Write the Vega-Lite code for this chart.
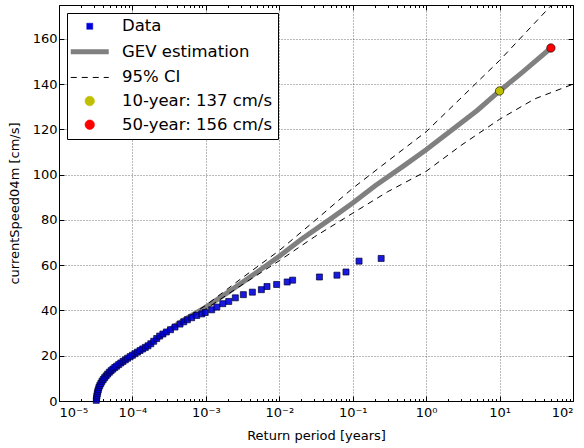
{
 "$schema": "https://vega.github.io/schema/vega-lite/v6.json",
 "width": 514, "height": 396,
 "autosize": {"type": "none"},
 "padding": {"left": 59, "top": 5, "right": 11, "bottom": 47},
 "background": "white",
 "config": {
  "font": "DejaVu Sans",
  "view": {"stroke": "black", "strokeWidth": 1},
  "axis": {"labelFont": "DejaVu Sans", "titleFont": "DejaVu Sans", "labelColor": "black", "titleColor": "black", "labelFontSize": 13, "titleFontSize": 13, "titleFontWeight": "normal", "tickColor": "black", "tickWidth": 1, "domain": false}
 },
 "datasets": {
  "pts": [
   {"x":3.22e-5,"y":0.3},{"x":3.25e-5,"y":1.2},{"x":3.28e-5,"y":2.2},{"x":3.32e-5,"y":3.2},{"x":3.37e-5,"y":4.1},{"x":3.43e-5,"y":5.0},{"x":3.5e-5,"y":6.0},{"x":3.6e-5,"y":6.9},{"x":3.72e-5,"y":7.8},{"x":3.85e-5,"y":8.7},{"x":4.0e-5,"y":9.5},{"x":4.18e-5,"y":10.3},{"x":4.38e-5,"y":11.1},{"x":4.6e-5,"y":11.9},{"x":4.85e-5,"y":12.7},{"x":5.12e-5,"y":13.4},{"x":5.42e-5,"y":14.1},{"x":5.75e-5,"y":14.8},{"x":6.1e-5,"y":15.4},{"x":6.5e-5,"y":16.1},{"x":6.95e-5,"y":16.8},{"x":7.45e-5,"y":17.5},{"x":8.0e-5,"y":18.2},{"x":8.6e-5,"y":18.9},{"x":9.3e-5,"y":19.6},{"x":1.0e-4,"y":20.2},{"x":1.08e-4,"y":20.9},{"x":1.17e-4,"y":21.6},{"x":1.27e-4,"y":22.3},{"x":1.38e-4,"y":23.0},{"x":1.5e-4,"y":23.7},{"x":1.63e-4,"y":24.4},{"x":1.78e-4,"y":25.3},{"x":1.95e-4,"y":26.4},{"x":2.14e-4,"y":27.6},{"x":2.35e-4,"y":28.7},{"x":2.6e-4,"y":29.6},{"x":2.9e-4,"y":30.5},{"x":3.3e-4,"y":31.5},{"x":3.8e-4,"y":32.7},{"x":4.45e-4,"y":34.0},{"x":5.0e-4,"y":35.0},{"x":5.6e-4,"y":35.9},{"x":6.4e-4,"y":36.8},{"x":7.5e-4,"y":37.8},{"x":8.8e-4,"y":38.5},{"x":9.8e-4,"y":39.1},{"x":1.2e-3,"y":40.3},{"x":1.41e-3,"y":41.5},{"x":1.7e-3,"y":43.0},{"x":2.05e-3,"y":44.0},{"x":2.52e-3,"y":45.6},{"x":3.24e-3,"y":47.0},{"x":4.3e-3,"y":48.1},{"x":5.7e-3,"y":49.2},{"x":6.8e-3,"y":50.6},{"x":9.2e-3,"y":51.5},{"x":1.28e-2,"y":52.6},{"x":1.52e-2,"y":53.4},{"x":3.52e-2,"y":54.8},{"x":6.1e-2,"y":55.6},{"x":8.1e-2,"y":57.0},{"x":0.122,"y":61.8},{"x":0.244,"y":63.0}
  ],
  "gev": [
   {"x":3.22e-5,"y":0},{"x":3.3e-5,"y":3},{"x":3.43e-5,"y":5},{"x":3.72e-5,"y":7.8},{"x":4e-5,"y":9.5},{"x":4.6e-5,"y":11.9},{"x":5.42e-5,"y":14.1},{"x":6.5e-5,"y":16.1},{"x":8e-5,"y":18.2},{"x":1e-4,"y":20.2},{"x":1.27e-4,"y":22.3},{"x":1.63e-4,"y":24.6},{"x":2.14e-4,"y":27.4},{"x":3e-4,"y":30.9},{"x":5e-4,"y":35.8},{"x":1e-3,"y":41.5},{"x":2e-3,"y":48},{"x":5e-3,"y":57},{"x":1e-2,"y":64},{"x":2e-2,"y":71.5},{"x":5e-2,"y":80.5},{"x":0.1,"y":87.5},{"x":0.2,"y":95},{"x":0.5,"y":104},{"x":1,"y":111},{"x":2,"y":118.5},{"x":5,"y":128.5},{"x":10,"y":137},{"x":20,"y":145},{"x":50,"y":156}
  ],
  "ci": [
   {"x":3.22e-5,"y":0,"b":"u"},{"x":3.3e-5,"y":3,"b":"u"},{"x":3.43e-5,"y":5,"b":"u"},{"x":3.72e-5,"y":7.8,"b":"u"},{"x":4e-5,"y":9.5,"b":"u"},{"x":4.6e-5,"y":11.9,"b":"u"},{"x":5.42e-5,"y":14.1,"b":"u"},{"x":6.5e-5,"y":16.1,"b":"u"},{"x":8e-5,"y":18.2,"b":"u"},{"x":1e-4,"y":20.3,"b":"u"},{"x":1.63e-4,"y":24.8,"b":"u"},{"x":3e-4,"y":31.2,"b":"u"},{"x":1e-3,"y":42.3,"b":"u"},{"x":3e-3,"y":54,"b":"u"},{"x":1e-2,"y":66.5,"b":"u"},{"x":3e-2,"y":79.5,"b":"u"},{"x":0.1,"y":94,"b":"u"},{"x":0.3,"y":106,"b":"u"},{"x":1,"y":119,"b":"u"},{"x":3,"y":134,"b":"u"},{"x":10,"y":150.5,"b":"u"},{"x":30,"y":167,"b":"u"},{"x":100,"y":185,"b":"u"},
   {"x":3.22e-5,"y":0,"b":"l"},{"x":3.3e-5,"y":3,"b":"l"},{"x":3.43e-5,"y":5,"b":"l"},{"x":3.72e-5,"y":7.8,"b":"l"},{"x":4e-5,"y":9.5,"b":"l"},{"x":4.6e-5,"y":11.9,"b":"l"},{"x":5.42e-5,"y":14.1,"b":"l"},{"x":6.5e-5,"y":16.1,"b":"l"},{"x":8e-5,"y":18.2,"b":"l"},{"x":1e-4,"y":20.1,"b":"l"},{"x":1.63e-4,"y":24.4,"b":"l"},{"x":3e-4,"y":30.6,"b":"l"},{"x":1e-3,"y":40.7,"b":"l"},{"x":3e-3,"y":51,"b":"l"},{"x":1e-2,"y":62,"b":"l"},{"x":3e-2,"y":72.5,"b":"l"},{"x":0.1,"y":83,"b":"l"},{"x":0.3,"y":92.5,"b":"l"},{"x":1,"y":101.5,"b":"l"},{"x":3,"y":113,"b":"l"},{"x":10,"y":124.5,"b":"l"},{"x":30,"y":133.5,"b":"l"},{"x":100,"y":140,"b":"l"}
  ],
  "m10": [{"x":10,"y":137}],
  "m50": [{"x":50,"y":156}]
 },
 "resolve": {"axis": {"x": "independent", "y": "independent"}},
 "layer": [
  {
   "data": {"name": "gev"},
   "mark": {"type": "line", "strokeWidth": 5, "clip": true},
   "encoding": {
    "x": {"field": "x", "type": "quantitative", "scale": {"type": "log", "domain": [1e-5, 100], "nice": false},
     "axis": {"orient": "bottom", "values": [1e-5, 1e-4, 1e-3, 1e-2, 1e-1, 1, 10, 100], "grid": true, "gridColor": "black", "gridOpacity": 0.55, "gridDash": [1, 2], "tickSize": -5, "labelPadding": 10,
      "labelExpr": "datum.value < 5e-5 ? '10⁻⁵' : datum.value < 5e-4 ? '10⁻⁴' : datum.value < 5e-3 ? '10⁻³' : datum.value < 5e-2 ? '10⁻²' : datum.value < 0.5 ? '10⁻¹' : datum.value < 5 ? '10⁰' : datum.value < 50 ? '10¹' : '10²'",
      "title": "Return period [years]", "titlePadding": 10}},
    "y": {"field": "y", "type": "quantitative", "scale": {"domain": [0, 175], "nice": false},
     "axis": {"orient": "left", "values": [0, 20, 40, 60, 80, 100, 120, 140, 160], "grid": true, "gridColor": "black", "gridOpacity": 0.55, "gridDash": [1, 2], "tickSize": -5, "labelPadding": 7, "title": "currentSpeed04m [cm/s]", "titlePadding": 11}},
    "color": {"datum": "GEV estimation", "type": "nominal",
     "scale": {"domain": ["Data", "GEV estimation", "95% CI", "10-year: 137 cm/s", "50-year: 156 cm/s"], "range": ["#0000dd", "#808080", "#000000", "#bfbf00", "#ff0000"]},
     "legend": {"title": null, "orient": "top-left", "offset": 8, "padding": 5, "fillColor": "white", "strokeColor": "black", "cornerRadius": 0,
      "labelFont": "DejaVu Sans", "labelFontSize": 16.5, "labelColor": "black", "labelLimit": 400, "labelOffset": 33.5, "symbolSize": 361, "rowPadding": 6.6,
      "encode": {"symbols": {"update": {
       "shape": {"signal": "datum.value === 'Data' ? 'M0.68,-0.32H1.32V0.32H0.68Z' : (datum.value === 'GEV estimation' || datum.value === '95% CI') ? 'M-1,0H3' : 'M0.5,0A0.5,0.5,0,1,1,1.5,0A0.5,0.5,0,1,1,0.5,0Z'"},
       "fill": {"signal": "datum.value === 'Data' ? '#4b4bf2' : datum.value === '10-year: 137 cm/s' ? '#bfbf00' : datum.value === '50-year: 156 cm/s' ? '#ff0000' : 'transparent'"},
       "stroke": {"signal": "datum.value === 'GEV estimation' ? '#808080' : datum.value === '95% CI' ? '#000000' : datum.value === 'Data' ? '#4b4bf2' : '#000000'"},
       "strokeWidth": {"signal": "datum.value === 'GEV estimation' ? 5 : datum.value === '95% CI' ? 1 : 0.5"},
       "strokeDash": {"signal": "datum.value === '95% CI' ? [6, 5] : [1, 0]"},
       "opacity": {"value": 1},
       "fillOpacity": {"value": 1},
       "strokeOpacity": {"value": 1}
      }}}}
    }
   }
  },
  {
   "data": {"name": "ci"},
   "mark": {"type": "line", "strokeWidth": 1, "strokeDash": [6, 5], "clip": true},
   "encoding": {
    "x": {"field": "x", "type": "quantitative", "axis": {"orient": "top", "values": [1e-5, 1e-4, 1e-3, 1e-2, 1e-1, 1, 10, 100], "grid": false, "labels": false, "title": null, "tickSize": -5}},
    "y": {"field": "y", "type": "quantitative", "axis": {"orient": "right", "values": [0, 20, 40, 60, 80, 100, 120, 140, 160], "grid": false, "labels": false, "title": null, "tickSize": -5}},
    "detail": {"field": "b"},
    "color": {"datum": "95% CI", "type": "nominal"}
   }
  },
  {
   "data": {"name": "pts"},
   "mark": {"type": "point", "shape": "square", "filled": true, "size": 36, "stroke": "#000033", "strokeWidth": 0.7, "fillOpacity": 0.9, "opacity": 1},
   "encoding": {
    "x": {"field": "x", "type": "quantitative", "axis": {"orient": "bottom", "values": [2e-5,3e-5,4e-5,5e-5,6e-5,7e-5,8e-5,9e-5,2e-4,3e-4,4e-4,5e-4,6e-4,7e-4,8e-4,9e-4,2e-3,3e-3,4e-3,5e-3,6e-3,7e-3,8e-3,9e-3,0.02,0.03,0.04,0.05,0.06,0.07,0.08,0.09,0.2,0.3,0.4,0.5,0.6,0.7,0.8,0.9,2,3,4,5,6,7,8,9,20,30,40,50,60,70,80,90], "grid": false, "labels": false, "title": null, "tickSize": -2.5}},
    "y": {"field": "y", "type": "quantitative", "axis": null},
    "color": {"datum": "Data", "type": "nominal"}
   }
  },
  {
   "data": {"name": "m10"},
   "mark": {"type": "point", "shape": "circle", "filled": true, "size": 71, "stroke": "black", "strokeWidth": 0.6, "opacity": 1},
   "encoding": {
    "x": {"field": "x", "type": "quantitative", "axis": {"orient": "top", "values": [2e-5,3e-5,4e-5,5e-5,6e-5,7e-5,8e-5,9e-5,2e-4,3e-4,4e-4,5e-4,6e-4,7e-4,8e-4,9e-4,2e-3,3e-3,4e-3,5e-3,6e-3,7e-3,8e-3,9e-3,0.02,0.03,0.04,0.05,0.06,0.07,0.08,0.09,0.2,0.3,0.4,0.5,0.6,0.7,0.8,0.9,2,3,4,5,6,7,8,9,20,30,40,50,60,70,80,90], "grid": false, "labels": false, "title": null, "tickSize": -2.5}},
    "y": {"field": "y", "type": "quantitative", "axis": null},
    "color": {"datum": "10-year: 137 cm/s", "type": "nominal"}
   }
  },
  {
   "data": {"name": "m50"},
   "mark": {"type": "point", "shape": "circle", "filled": true, "size": 71, "stroke": "black", "strokeWidth": 0.6, "opacity": 1},
   "encoding": {
    "x": {"field": "x", "type": "quantitative", "axis": null},
    "y": {"field": "y", "type": "quantitative", "axis": null},
    "color": {"datum": "50-year: 156 cm/s", "type": "nominal"}
   }
  }
 ]
}
